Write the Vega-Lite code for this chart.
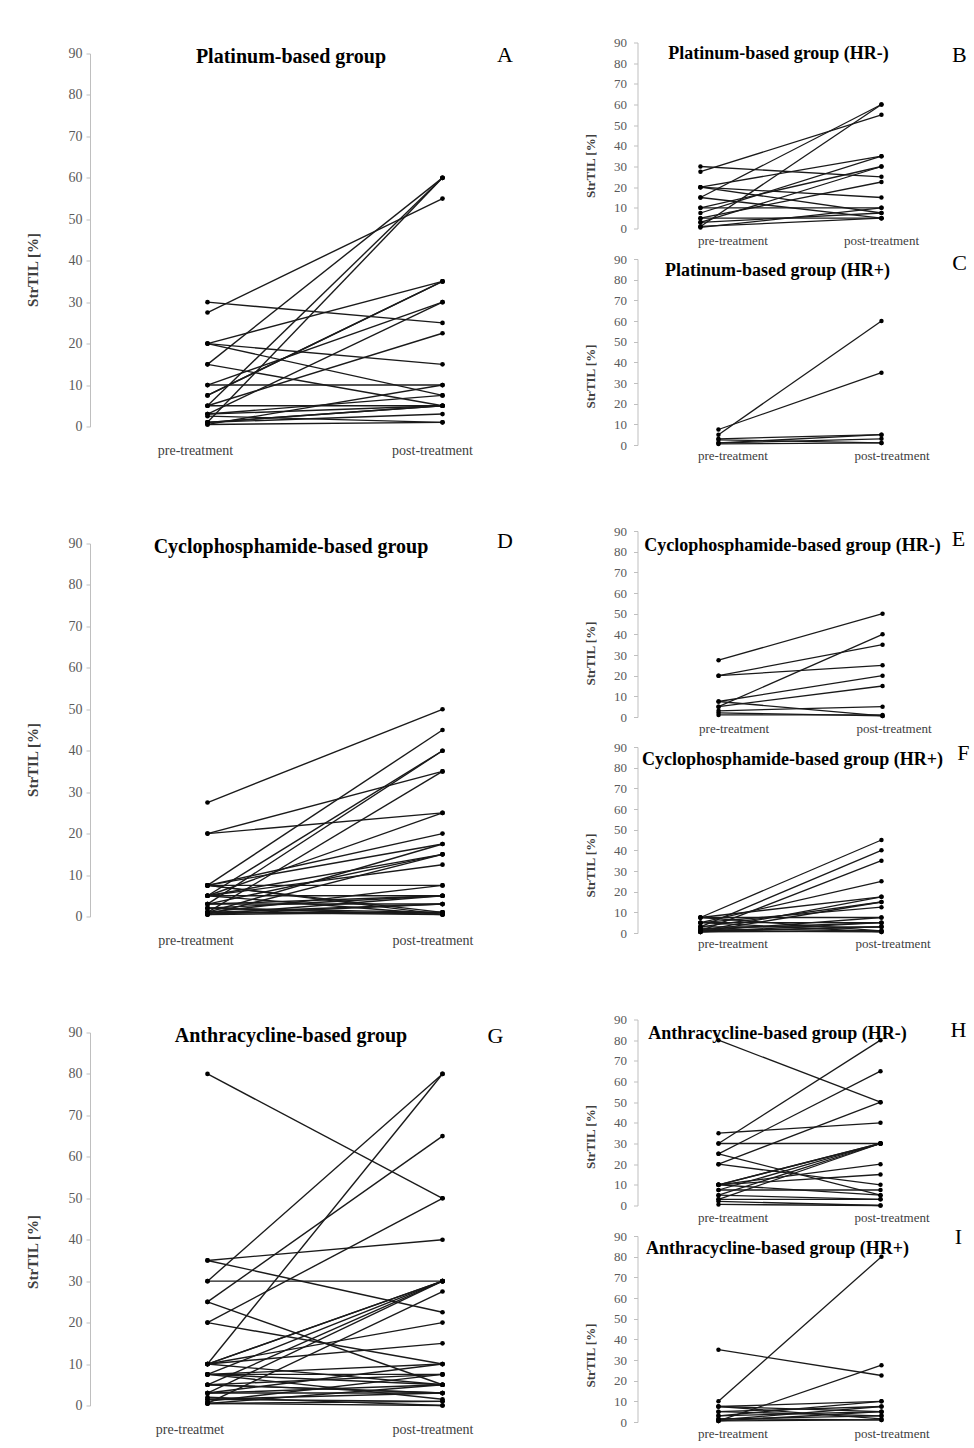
{
  "$schema": "https://vega.github.io/schema/vega-lite/v6.json",
  "padding": {"left": 25, "top": 36.5, "right": 0, "bottom": 0},
  "background": "white",
  "config": {"view": {"stroke": null}, "font": "Liberation Serif", "axis": {"grid": false}, "axisY": {"tickCount": 10, "labelOverlap": false}},
  "data": {"values": [
    {"id":1,"g":"P","hr":"-","pre":30,"post":25},
    {"id":2,"g":"P","hr":"-","pre":27.5,"post":55},
    {"id":3,"g":"P","hr":"-","pre":20,"post":35},
    {"id":4,"g":"P","hr":"-","pre":20,"post":15},
    {"id":5,"g":"P","hr":"-","pre":20,"post":7.5},
    {"id":6,"g":"P","hr":"-","pre":15,"post":60},
    {"id":7,"g":"P","hr":"-","pre":15,"post":5},
    {"id":8,"g":"P","hr":"-","pre":10,"post":30},
    {"id":9,"g":"P","hr":"-","pre":10,"post":10},
    {"id":10,"g":"P","hr":"-","pre":7.5,"post":35},
    {"id":11,"g":"P","hr":"-","pre":5,"post":22.5},
    {"id":12,"g":"P","hr":"-","pre":5,"post":5},
    {"id":13,"g":"P","hr":"-","pre":3,"post":30},
    {"id":14,"g":"P","hr":"-","pre":1,"post":60},
    {"id":15,"g":"P","hr":"-","pre":0.5,"post":10},
    {"id":16,"g":"P","hr":"-","pre":3,"post":7.5},
    {"id":17,"g":"P","hr":"-","pre":1,"post":5},
    {"id":18,"g":"P","hr":"+","pre":5,"post":60},
    {"id":19,"g":"P","hr":"+","pre":7.5,"post":35},
    {"id":20,"g":"P","hr":"+","pre":3,"post":5},
    {"id":21,"g":"P","hr":"+","pre":1,"post":3},
    {"id":22,"g":"P","hr":"+","pre":0.5,"post":1},
    {"id":23,"g":"P","hr":"+","pre":2.5,"post":1},
    {"id":24,"g":"P","hr":"+","pre":1,"post":5},
    {"id":25,"g":"C","hr":"-","pre":27.5,"post":50},
    {"id":26,"g":"C","hr":"-","pre":20,"post":35},
    {"id":27,"g":"C","hr":"-","pre":20,"post":25},
    {"id":28,"g":"C","hr":"-","pre":5,"post":40},
    {"id":29,"g":"C","hr":"-","pre":7.5,"post":20},
    {"id":30,"g":"C","hr":"-","pre":5,"post":15},
    {"id":31,"g":"C","hr":"-","pre":7.5,"post":0.5},
    {"id":32,"g":"C","hr":"-","pre":3,"post":5},
    {"id":33,"g":"C","hr":"-","pre":1,"post":1},
    {"id":34,"g":"C","hr":"-","pre":2,"post":0.5},
    {"id":35,"g":"C","hr":"+","pre":7.5,"post":45},
    {"id":36,"g":"C","hr":"+","pre":3,"post":40},
    {"id":37,"g":"C","hr":"+","pre":1,"post":35},
    {"id":38,"g":"C","hr":"+","pre":5,"post":25},
    {"id":39,"g":"C","hr":"+","pre":7.5,"post":17.5},
    {"id":40,"g":"C","hr":"+","pre":1,"post":17.5},
    {"id":41,"g":"C","hr":"+","pre":3,"post":15},
    {"id":42,"g":"C","hr":"+","pre":0.5,"post":15},
    {"id":43,"g":"C","hr":"+","pre":5,"post":12.5},
    {"id":44,"g":"C","hr":"+","pre":7.5,"post":7.5},
    {"id":45,"g":"C","hr":"+","pre":1,"post":7.5},
    {"id":46,"g":"C","hr":"+","pre":5,"post":5},
    {"id":47,"g":"C","hr":"+","pre":2,"post":5},
    {"id":48,"g":"C","hr":"+","pre":0.5,"post":5},
    {"id":49,"g":"C","hr":"+","pre":3,"post":3},
    {"id":50,"g":"C","hr":"+","pre":1,"post":3},
    {"id":51,"g":"C","hr":"+","pre":7.5,"post":1},
    {"id":52,"g":"C","hr":"+","pre":0.5,"post":1},
    {"id":53,"g":"C","hr":"+","pre":1,"post":0.5},
    {"id":54,"g":"C","hr":"+","pre":5,"post":0.5},
    {"id":55,"g":"C","hr":"+","pre":2,"post":1},
    {"id":56,"g":"C","hr":"+","pre":0.5,"post":3},
    {"id":57,"g":"A","hr":"-","pre":80,"post":50},
    {"id":58,"g":"A","hr":"-","pre":30,"post":80},
    {"id":59,"g":"A","hr":"-","pre":25,"post":65},
    {"id":60,"g":"A","hr":"-","pre":20,"post":50},
    {"id":61,"g":"A","hr":"-","pre":35,"post":40},
    {"id":62,"g":"A","hr":"-","pre":30,"post":30},
    {"id":63,"g":"A","hr":"-","pre":25,"post":5},
    {"id":64,"g":"A","hr":"-","pre":20,"post":10},
    {"id":65,"g":"A","hr":"-","pre":10,"post":30},
    {"id":66,"g":"A","hr":"-","pre":10,"post":30},
    {"id":67,"g":"A","hr":"-","pre":7.5,"post":30},
    {"id":68,"g":"A","hr":"-","pre":5,"post":30},
    {"id":69,"g":"A","hr":"-","pre":3,"post":30},
    {"id":70,"g":"A","hr":"-","pre":10,"post":15},
    {"id":71,"g":"A","hr":"-","pre":10,"post":20},
    {"id":72,"g":"A","hr":"-","pre":7.5,"post":7.5},
    {"id":73,"g":"A","hr":"-","pre":5,"post":3},
    {"id":74,"g":"A","hr":"-","pre":3,"post":3},
    {"id":75,"g":"A","hr":"-","pre":0.5,"post":0},
    {"id":76,"g":"A","hr":"-","pre":2,"post":0},
    {"id":77,"g":"A","hr":"-","pre":10,"post":5},
    {"id":78,"g":"A","hr":"+","pre":35,"post":22.5},
    {"id":79,"g":"A","hr":"+","pre":10,"post":80},
    {"id":80,"g":"A","hr":"+","pre":0.5,"post":27.5},
    {"id":81,"g":"A","hr":"+","pre":7.5,"post":10},
    {"id":82,"g":"A","hr":"+","pre":7.5,"post":5},
    {"id":83,"g":"A","hr":"+","pre":5,"post":7.5},
    {"id":84,"g":"A","hr":"+","pre":5,"post":3},
    {"id":85,"g":"A","hr":"+","pre":3,"post":5},
    {"id":86,"g":"A","hr":"+","pre":3,"post":10},
    {"id":87,"g":"A","hr":"+","pre":1.5,"post":3},
    {"id":88,"g":"A","hr":"+","pre":1.5,"post":1},
    {"id":89,"g":"A","hr":"+","pre":0.5,"post":1},
    {"id":90,"g":"A","hr":"+","pre":7.5,"post":1.5},
    {"id":91,"g":"A","hr":"+","pre":1,"post":7.5},
    {"id":92,"g":"A","hr":"+","pre":0.5,"post":5}
  ]},
  "spacing": 23.5,
  "center": true,
  "hconcat": [
    {
      "spacing": 72,
      "vconcat": [
        {
          "width": 470, "height": 373,
          "title": {"text": "Platinum-based group", "font": "Liberation Serif", "fontSize": 20, "fontWeight": "bold", "color": "black", "frame": "group", "anchor": "middle", "offset": -23, "dx": -34},
          "layer": [
            {"transform": [{"filter": "datum.g === 'P'"}, {"fold": ["pre", "post"], "as": ["phase", "v"]}],
             "mark": {"type": "line", "color": "#1a1a1a", "strokeWidth": 1.4},
             "encoding": {
               "x": {"field": "phase", "type": "ordinal", "scale": {"type": "point", "domain": ["pre", "post"], "padding": 0.5, "align": 0.5},
                 "axis": {"title": null, "domain": false, "ticks": false, "tickSize": 0, "labelAngle": 0, "labelFont": "Liberation Serif", "labelFontSize": 14, "labelColor": "#404040", "labelPadding": 17, "labelExpr": "datum.value === 'pre' ? 'pre-treatment' : 'post-treatment'", "labelOffset": {"condition": {"test": "datum.value === 'pre'", "value": -12.5}, "value": -10.5}}},
               "y": {"field": "v", "type": "quantitative", "scale": {"domain": [0, 90], "nice": false},
                 "axis": {"values": [0,10,20,30,40,50,60,70,80,90], "labelOverlap": false, "title": "StrTIL [%]", "labelFont": "Liberation Serif", "labelFontSize": 14, "labelColor": "#595959", "labelPadding": 4, "tickSize": 4, "tickColor": "#bfbfbf", "domainColor": "#bfbfbf", "titleFont": "Liberation Serif", "titleFontSize": 15, "titleFontWeight": "bold", "titleColor": "#404040", "titlePadding": 27.5, "titleY": 216}},
               "detail": {"field": "id", "type": "nominal"}}},
            {"transform": [{"filter": "datum.g === 'P'"}, {"fold": ["pre", "post"], "as": ["phase", "v"]}],
             "mark": {"type": "circle", "color": "black", "size": 22, "opacity": 1},
             "encoding": {"x": {"field": "phase", "type": "ordinal"},
               "y": {"field": "v", "type": "quantitative", "axis": {"values": [0,10,20,30,40,50,60,70,80,90], "labelOverlap": false, "title": "StrTIL [%]", "labelFont": "Liberation Serif", "labelFontSize": 14, "labelColor": "#595959", "labelPadding": 4, "tickSize": 4, "tickColor": "#bfbfbf", "domainColor": "#bfbfbf", "titleFont": "Liberation Serif", "titleFontSize": 15, "titleFontWeight": "bold", "titleColor": "#404040", "titlePadding": 27.5, "titleY": 216}}}},
            {"transform": [{"filter": "datum.id === 1"}],
             "mark": {"type": "text", "text": "A", "font": "Liberation Serif", "fontSize": 22, "color": "black", "dx": 62.5, "dy": 1, "baseline": "middle"},
             "encoding": {"x": {"datum": "post", "type": "ordinal"},
               "y": {"datum": 90, "type": "quantitative", "axis": {"values": [0,10,20,30,40,50,60,70,80,90], "labelOverlap": false, "title": "StrTIL [%]", "labelFont": "Liberation Serif", "labelFontSize": 14, "labelColor": "#595959", "labelPadding": 4, "tickSize": 4, "tickColor": "#bfbfbf", "domainColor": "#bfbfbf", "titleFont": "Liberation Serif", "titleFontSize": 15, "titleFontWeight": "bold", "titleColor": "#404040", "titlePadding": 27.5, "titleY": 216}}}}
          ]
        },
        {
          "spacing": 77,
          "vconcat": [
            {
              "width": 470, "height": 373,
              "title": {"text": "Cyclophosphamide-based group", "font": "Liberation Serif", "fontSize": 20, "fontWeight": "bold", "color": "black", "frame": "group", "anchor": "middle", "offset": -27, "dx": -34},
              "layer": [
                {"transform": [{"filter": "datum.g === 'C'"}, {"fold": ["pre", "post"], "as": ["phase", "v"]}],
                 "mark": {"type": "line", "color": "#1a1a1a", "strokeWidth": 1.4},
                 "encoding": {
                   "x": {"field": "phase", "type": "ordinal", "scale": {"type": "point", "domain": ["pre", "post"], "padding": 0.5, "align": 0.5},
                     "axis": {"title": null, "domain": false, "ticks": false, "tickSize": 0, "labelAngle": 0, "labelFont": "Liberation Serif", "labelFontSize": 14, "labelColor": "#404040", "labelPadding": 17, "labelExpr": "datum.value === 'pre' ? 'pre-treatment' : 'post-treatment'", "labelOffset": {"condition": {"test": "datum.value === 'pre'", "value": -12}, "value": -10}}},
                   "y": {"field": "v", "type": "quantitative", "scale": {"domain": [0, 90], "nice": false},
                     "axis": {"values": [0,10,20,30,40,50,60,70,80,90], "labelOverlap": false, "title": "StrTIL [%]", "labelFont": "Liberation Serif", "labelFontSize": 14, "labelColor": "#595959", "labelPadding": 4, "tickSize": 4, "tickColor": "#bfbfbf", "domainColor": "#bfbfbf", "titleFont": "Liberation Serif", "titleFontSize": 15, "titleFontWeight": "bold", "titleColor": "#404040", "titlePadding": 27.5, "titleY": 216}},
                   "detail": {"field": "id", "type": "nominal"}}},
                {"transform": [{"filter": "datum.g === 'C'"}, {"fold": ["pre", "post"], "as": ["phase", "v"]}],
                 "mark": {"type": "circle", "color": "black", "size": 22, "opacity": 1},
                 "encoding": {"x": {"field": "phase", "type": "ordinal"},
                   "y": {"field": "v", "type": "quantitative", "axis": {"values": [0,10,20,30,40,50,60,70,80,90], "labelOverlap": false, "title": "StrTIL [%]", "labelFont": "Liberation Serif", "labelFontSize": 14, "labelColor": "#595959", "labelPadding": 4, "tickSize": 4, "tickColor": "#bfbfbf", "domainColor": "#bfbfbf", "titleFont": "Liberation Serif", "titleFontSize": 15, "titleFontWeight": "bold", "titleColor": "#404040", "titlePadding": 27.5, "titleY": 216}}}},
                {"transform": [{"filter": "datum.id === 1"}],
                 "mark": {"type": "text", "text": "D", "font": "Liberation Serif", "fontSize": 22, "color": "black", "dx": 62.5, "dy": -3, "baseline": "middle"},
                 "encoding": {"x": {"datum": "post", "type": "ordinal"},
                   "y": {"datum": 90, "type": "quantitative", "axis": {"values": [0,10,20,30,40,50,60,70,80,90], "labelOverlap": false, "title": "StrTIL [%]", "labelFont": "Liberation Serif", "labelFontSize": 14, "labelColor": "#595959", "labelPadding": 4, "tickSize": 4, "tickColor": "#bfbfbf", "domainColor": "#bfbfbf", "titleFont": "Liberation Serif", "titleFontSize": 15, "titleFontWeight": "bold", "titleColor": "#404040", "titlePadding": 27.5, "titleY": 216}}}}
              ]
            },
            {
              "width": 470, "height": 373,
              "title": {"text": "Anthracycline-based group", "font": "Liberation Serif", "fontSize": 20, "fontWeight": "bold", "color": "black", "frame": "group", "anchor": "middle", "offset": -21, "dx": -34},
              "layer": [
                {"transform": [{"filter": "datum.g === 'A'"}, {"fold": ["pre", "post"], "as": ["phase", "v"]}],
                 "mark": {"type": "line", "color": "#1a1a1a", "strokeWidth": 1.4},
                 "encoding": {
                   "x": {"field": "phase", "type": "ordinal", "scale": {"type": "point", "domain": ["pre", "post"], "padding": 0.5, "align": 0.5},
                     "axis": {"title": null, "domain": false, "ticks": false, "tickSize": 0, "labelAngle": 0, "labelFont": "Liberation Serif", "labelFontSize": 14, "labelColor": "#404040", "labelPadding": 17, "labelExpr": "datum.value === 'pre' ? 'pre-treatmet' : 'post-treatment'", "labelOffset": {"condition": {"test": "datum.value === 'pre'", "value": -18}, "value": -10}}},
                   "y": {"field": "v", "type": "quantitative", "scale": {"domain": [0, 90], "nice": false},
                     "axis": {"values": [0,10,20,30,40,50,60,70,80,90], "labelOverlap": false, "title": "StrTIL [%]", "labelFont": "Liberation Serif", "labelFontSize": 14, "labelColor": "#595959", "labelPadding": 4, "tickSize": 4, "tickColor": "#bfbfbf", "domainColor": "#bfbfbf", "titleFont": "Liberation Serif", "titleFontSize": 15, "titleFontWeight": "bold", "titleColor": "#404040", "titlePadding": 27.5, "titleY": 219}},
                   "detail": {"field": "id", "type": "nominal"}}},
                {"transform": [{"filter": "datum.g === 'A'"}, {"fold": ["pre", "post"], "as": ["phase", "v"]}],
                 "mark": {"type": "circle", "color": "black", "size": 22, "opacity": 1},
                 "encoding": {"x": {"field": "phase", "type": "ordinal"},
                   "y": {"field": "v", "type": "quantitative", "axis": {"values": [0,10,20,30,40,50,60,70,80,90], "labelOverlap": false, "title": "StrTIL [%]", "labelFont": "Liberation Serif", "labelFontSize": 14, "labelColor": "#595959", "labelPadding": 4, "tickSize": 4, "tickColor": "#bfbfbf", "domainColor": "#bfbfbf", "titleFont": "Liberation Serif", "titleFontSize": 15, "titleFontWeight": "bold", "titleColor": "#404040", "titlePadding": 27.5, "titleY": 219}}}},
                {"transform": [{"filter": "datum.id === 1"}],
                 "mark": {"type": "text", "text": "G", "font": "Liberation Serif", "fontSize": 22, "color": "black", "dx": 53, "dy": 3, "baseline": "middle"},
                 "encoding": {"x": {"datum": "post", "type": "ordinal"},
                   "y": {"datum": 90, "type": "quantitative", "axis": {"values": [0,10,20,30,40,50,60,70,80,90], "labelOverlap": false, "title": "StrTIL [%]", "labelFont": "Liberation Serif", "labelFontSize": 14, "labelColor": "#595959", "labelPadding": 4, "tickSize": 4, "tickColor": "#bfbfbf", "domainColor": "#bfbfbf", "titleFont": "Liberation Serif", "titleFontSize": 15, "titleFontWeight": "bold", "titleColor": "#404040", "titlePadding": 27.5, "titleY": 219}}}}
              ]
            }
          ]
        }
      ]
    },
    {
      "spacing": 62.5,
      "vconcat": [
        {"spacing": 4.5, "vconcat": [
          {
            "width": 300, "height": 186,
            "title": {"text": "Platinum-based group (HR-)", "font": "Liberation Serif", "fontSize": 18, "fontWeight": "bold", "color": "black", "frame": "group", "anchor": "middle", "offset": -26, "dx": -9},
            "layer": [
              {"transform": [{"filter": "datum.g === 'P' && datum.hr === '-'"}, {"fold": ["pre", "post"], "as": ["phase", "v"]}],
               "mark": {"type": "line", "color": "#1a1a1a", "strokeWidth": 1.3},
               "encoding": {
                 "x": {"field": "phase", "type": "ordinal", "scale": {"type": "point", "domain": ["pre", "post"], "padding": 0.3287, "align": 0.529},
                   "axis": {"title": null, "domain": false, "ticks": false, "tickSize": 0, "labelAngle": 0, "labelFont": "Liberation Serif", "labelFontSize": 13, "labelColor": "#404040", "labelPadding": 5.5, "labelExpr": "datum.value === 'pre' ? 'pre-treatment' : 'post-treatment'", "labelOffset": {"condition": {"test": "datum.value === 'pre'", "value": 32}, "value": -0.5}}},
                 "y": {"field": "v", "type": "quantitative", "scale": {"domain": [0, 90], "nice": false},
                   "axis": {"values": [0,10,20,30,40,50,60,70,80,90], "labelOverlap": false, "title": "StrTIL [%]", "labelFont": "Liberation Serif", "labelFontSize": 13, "labelColor": "#595959", "labelPadding": 7, "tickSize": 4, "tickColor": "#bfbfbf", "domainColor": "#bfbfbf", "titleFont": "Liberation Serif", "titleFontSize": 13, "titleFontWeight": "bold", "titleColor": "#404040", "titlePadding": 16.5, "titleY": 123}},
                 "detail": {"field": "id", "type": "nominal"}}},
              {"transform": [{"filter": "datum.g === 'P' && datum.hr === '-'"}, {"fold": ["pre", "post"], "as": ["phase", "v"]}],
               "mark": {"type": "circle", "color": "black", "size": 20, "opacity": 1},
               "encoding": {"x": {"field": "phase", "type": "ordinal"},
                 "y": {"field": "v", "type": "quantitative", "axis": {"values": [0,10,20,30,40,50,60,70,80,90], "labelOverlap": false, "title": "StrTIL [%]", "labelFont": "Liberation Serif", "labelFontSize": 13, "labelColor": "#595959", "labelPadding": 7, "tickSize": 4, "tickColor": "#bfbfbf", "domainColor": "#bfbfbf", "titleFont": "Liberation Serif", "titleFontSize": 13, "titleFontWeight": "bold", "titleColor": "#404040", "titlePadding": 16.5, "titleY": 123}}}},
              {"transform": [{"filter": "datum.id === 1"}],
               "mark": {"type": "text", "text": "B", "font": "Liberation Serif", "fontSize": 22, "color": "black", "dx": 78, "dy": 12, "baseline": "middle"},
               "encoding": {"x": {"datum": "post", "type": "ordinal"},
                 "y": {"datum": 90, "type": "quantitative", "axis": {"values": [0,10,20,30,40,50,60,70,80,90], "labelOverlap": false, "title": "StrTIL [%]", "labelFont": "Liberation Serif", "labelFontSize": 13, "labelColor": "#595959", "labelPadding": 7, "tickSize": 4, "tickColor": "#bfbfbf", "domainColor": "#bfbfbf", "titleFont": "Liberation Serif", "titleFontSize": 13, "titleFontWeight": "bold", "titleColor": "#404040", "titlePadding": 16.5, "titleY": 123}}}}
            ]
          },
          {
            "width": 300, "height": 186,
            "title": {"text": "Platinum-based group (HR+)", "font": "Liberation Serif", "fontSize": 18, "fontWeight": "bold", "color": "black", "frame": "group", "anchor": "middle", "offset": -28, "dx": -10},
            "layer": [
              {"transform": [{"filter": "datum.g === 'P' && datum.hr === '+'"}, {"fold": ["pre", "post"], "as": ["phase", "v"]}],
               "mark": {"type": "line", "color": "#1a1a1a", "strokeWidth": 1.3},
               "encoding": {
                 "x": {"field": "phase", "type": "ordinal", "scale": {"type": "point", "domain": ["pre", "post"], "padding": 0.4202, "align": 0.591},
                   "axis": {"title": null, "domain": false, "ticks": false, "tickSize": 0, "labelAngle": 0, "labelFont": "Liberation Serif", "labelFontSize": 13, "labelColor": "#404040", "labelPadding": 4.5, "labelExpr": "datum.value === 'pre' ? 'pre-treatment' : 'post-treatment'", "labelOffset": {"condition": {"test": "datum.value === 'pre'", "value": 14}, "value": 10}}},
                 "y": {"field": "v", "type": "quantitative", "scale": {"domain": [0, 90], "nice": false},
                   "axis": {"values": [0,10,20,30,40,50,60,70,80,90], "labelOverlap": false, "title": "StrTIL [%]", "labelFont": "Liberation Serif", "labelFontSize": 13, "labelColor": "#595959", "labelPadding": 7, "tickSize": 4, "tickColor": "#bfbfbf", "domainColor": "#bfbfbf", "titleFont": "Liberation Serif", "titleFontSize": 13, "titleFontWeight": "bold", "titleColor": "#404040", "titlePadding": 16.5, "titleY": 117}},
                 "detail": {"field": "id", "type": "nominal"}}},
              {"transform": [{"filter": "datum.g === 'P' && datum.hr === '+'"}, {"fold": ["pre", "post"], "as": ["phase", "v"]}],
               "mark": {"type": "circle", "color": "black", "size": 20, "opacity": 1},
               "encoding": {"x": {"field": "phase", "type": "ordinal"},
                 "y": {"field": "v", "type": "quantitative", "axis": {"values": [0,10,20,30,40,50,60,70,80,90], "labelOverlap": false, "title": "StrTIL [%]", "labelFont": "Liberation Serif", "labelFontSize": 13, "labelColor": "#595959", "labelPadding": 7, "tickSize": 4, "tickColor": "#bfbfbf", "domainColor": "#bfbfbf", "titleFont": "Liberation Serif", "titleFontSize": 13, "titleFontWeight": "bold", "titleColor": "#404040", "titlePadding": 16.5, "titleY": 117}}}},
              {"transform": [{"filter": "datum.id === 1"}],
               "mark": {"type": "text", "text": "C", "font": "Liberation Serif", "fontSize": 22, "color": "black", "dx": 78, "dy": 4, "baseline": "middle"},
               "encoding": {"x": {"datum": "post", "type": "ordinal"},
                 "y": {"datum": 90, "type": "quantitative", "axis": {"values": [0,10,20,30,40,50,60,70,80,90], "labelOverlap": false, "title": "StrTIL [%]", "labelFont": "Liberation Serif", "labelFontSize": 13, "labelColor": "#595959", "labelPadding": 7, "tickSize": 4, "tickColor": "#bfbfbf", "domainColor": "#bfbfbf", "titleFont": "Liberation Serif", "titleFontSize": 13, "titleFontWeight": "bold", "titleColor": "#404040", "titlePadding": 16.5, "titleY": 117}}}}
            ]
          }
        ]},
        {"spacing": 5, "vconcat": [
          {
            "width": 300, "height": 186,
            "title": {"text": "Cyclophosphamide-based group (HR-)", "font": "Liberation Serif", "fontSize": 18, "fontWeight": "bold", "color": "black", "frame": "group", "anchor": "middle", "offset": -29.5, "dx": 5},
            "layer": [
              {"transform": [{"filter": "datum.g === 'C' && datum.hr === '-'"}, {"fold": ["pre", "post"], "as": ["phase", "v"]}],
               "mark": {"type": "line", "color": "#1a1a1a", "strokeWidth": 1.3},
               "encoding": {
                 "x": {"field": "phase", "type": "ordinal", "scale": {"type": "point", "domain": ["pre", "post"], "padding": 0.4146, "align": 0.596},
                   "axis": {"title": null, "domain": false, "ticks": false, "tickSize": 0, "labelAngle": 0, "labelFont": "Liberation Serif", "labelFontSize": 13, "labelColor": "#404040", "labelPadding": 5.5, "labelExpr": "datum.value === 'pre' ? 'pre-treatment' : 'post-treatment'", "labelOffset": {"condition": {"test": "datum.value === 'pre'", "value": 15}, "value": 11}}},
                 "y": {"field": "v", "type": "quantitative", "scale": {"domain": [0, 90], "nice": false},
                   "axis": {"values": [0,10,20,30,40,50,60,70,80,90], "labelOverlap": false, "title": "StrTIL [%]", "labelFont": "Liberation Serif", "labelFontSize": 13, "labelColor": "#595959", "labelPadding": 7, "tickSize": 4, "tickColor": "#bfbfbf", "domainColor": "#bfbfbf", "titleFont": "Liberation Serif", "titleFontSize": 13, "titleFontWeight": "bold", "titleColor": "#404040", "titlePadding": 16.5, "titleY": 122}},
                 "detail": {"field": "id", "type": "nominal"}}},
              {"transform": [{"filter": "datum.g === 'C' && datum.hr === '-'"}, {"fold": ["pre", "post"], "as": ["phase", "v"]}],
               "mark": {"type": "circle", "color": "black", "size": 20, "opacity": 1},
               "encoding": {"x": {"field": "phase", "type": "ordinal"},
                 "y": {"field": "v", "type": "quantitative", "axis": {"values": [0,10,20,30,40,50,60,70,80,90], "labelOverlap": false, "title": "StrTIL [%]", "labelFont": "Liberation Serif", "labelFontSize": 13, "labelColor": "#595959", "labelPadding": 7, "tickSize": 4, "tickColor": "#bfbfbf", "domainColor": "#bfbfbf", "titleFont": "Liberation Serif", "titleFontSize": 13, "titleFontWeight": "bold", "titleColor": "#404040", "titlePadding": 16.5, "titleY": 122}}}},
              {"transform": [{"filter": "datum.id === 1"}],
               "mark": {"type": "text", "text": "E", "font": "Liberation Serif", "fontSize": 22, "color": "black", "dx": 76, "dy": 8, "baseline": "middle"},
               "encoding": {"x": {"datum": "post", "type": "ordinal"},
                 "y": {"datum": 90, "type": "quantitative", "axis": {"values": [0,10,20,30,40,50,60,70,80,90], "labelOverlap": false, "title": "StrTIL [%]", "labelFont": "Liberation Serif", "labelFontSize": 13, "labelColor": "#595959", "labelPadding": 7, "tickSize": 4, "tickColor": "#bfbfbf", "domainColor": "#bfbfbf", "titleFont": "Liberation Serif", "titleFontSize": 13, "titleFontWeight": "bold", "titleColor": "#404040", "titlePadding": 16.5, "titleY": 122}}}}
            ]
          },
          {
            "width": 300, "height": 186,
            "title": {"text": "Cyclophosphamide-based group (HR+)", "font": "Liberation Serif", "fontSize": 18, "fontWeight": "bold", "color": "black", "frame": "group", "anchor": "middle", "offset": -28, "dx": 5},
            "layer": [
              {"transform": [{"filter": "datum.g === 'C' && datum.hr === '+'"}, {"fold": ["pre", "post"], "as": ["phase", "v"]}],
               "mark": {"type": "line", "color": "#1a1a1a", "strokeWidth": 1.3},
               "encoding": {
                 "x": {"field": "phase", "type": "ordinal", "scale": {"type": "point", "domain": ["pre", "post"], "padding": 0.3287, "align": 0.529},
                   "axis": {"title": null, "domain": false, "ticks": false, "tickSize": 0, "labelAngle": 0, "labelFont": "Liberation Serif", "labelFontSize": 13, "labelColor": "#404040", "labelPadding": 4.5, "labelExpr": "datum.value === 'pre' ? 'pre-treatment' : 'post-treatment'", "labelOffset": {"condition": {"test": "datum.value === 'pre'", "value": 32}, "value": 11}}},
                 "y": {"field": "v", "type": "quantitative", "scale": {"domain": [0, 90], "nice": false},
                   "axis": {"values": [0,10,20,30,40,50,60,70,80,90], "labelOverlap": false, "title": "StrTIL [%]", "labelFont": "Liberation Serif", "labelFontSize": 13, "labelColor": "#595959", "labelPadding": 7, "tickSize": 4, "tickColor": "#bfbfbf", "domainColor": "#bfbfbf", "titleFont": "Liberation Serif", "titleFontSize": 13, "titleFontWeight": "bold", "titleColor": "#404040", "titlePadding": 16.5, "titleY": 118}},
                 "detail": {"field": "id", "type": "nominal"}}},
              {"transform": [{"filter": "datum.g === 'C' && datum.hr === '+'"}, {"fold": ["pre", "post"], "as": ["phase", "v"]}],
               "mark": {"type": "circle", "color": "black", "size": 20, "opacity": 1},
               "encoding": {"x": {"field": "phase", "type": "ordinal"},
                 "y": {"field": "v", "type": "quantitative", "axis": {"values": [0,10,20,30,40,50,60,70,80,90], "labelOverlap": false, "title": "StrTIL [%]", "labelFont": "Liberation Serif", "labelFontSize": 13, "labelColor": "#595959", "labelPadding": 7, "tickSize": 4, "tickColor": "#bfbfbf", "domainColor": "#bfbfbf", "titleFont": "Liberation Serif", "titleFontSize": 13, "titleFontWeight": "bold", "titleColor": "#404040", "titlePadding": 16.5, "titleY": 118}}}},
              {"transform": [{"filter": "datum.id === 1"}],
               "mark": {"type": "text", "text": "F", "font": "Liberation Serif", "fontSize": 22, "color": "black", "dx": 82, "dy": 6, "baseline": "middle"},
               "encoding": {"x": {"datum": "post", "type": "ordinal"},
                 "y": {"datum": 90, "type": "quantitative", "axis": {"values": [0,10,20,30,40,50,60,70,80,90], "labelOverlap": false, "title": "StrTIL [%]", "labelFont": "Liberation Serif", "labelFontSize": 13, "labelColor": "#595959", "labelPadding": 7, "tickSize": 4, "tickColor": "#bfbfbf", "domainColor": "#bfbfbf", "titleFont": "Liberation Serif", "titleFontSize": 13, "titleFontWeight": "bold", "titleColor": "#404040", "titlePadding": 16.5, "titleY": 118}}}}
            ]
          }
        ]},
        {"spacing": 1.5, "vconcat": [
          {
            "width": 300, "height": 186,
            "title": {"text": "Anthracycline-based group (HR-)", "font": "Liberation Serif", "fontSize": 18, "fontWeight": "bold", "color": "black", "frame": "group", "anchor": "middle", "offset": -29, "dx": -10},
            "layer": [
              {"transform": [{"filter": "datum.g === 'A' && datum.hr === '-'"}, {"fold": ["pre", "post"], "as": ["phase", "v"]}],
               "mark": {"type": "line", "color": "#1a1a1a", "strokeWidth": 1.3},
               "encoding": {
                 "x": {"field": "phase", "type": "ordinal", "scale": {"type": "point", "domain": ["pre", "post"], "padding": 0.426, "align": 0.587},
                   "axis": {"title": null, "domain": false, "ticks": false, "tickSize": 0, "labelAngle": 0, "labelFont": "Liberation Serif", "labelFontSize": 13, "labelColor": "#404040", "labelPadding": 5.5, "labelExpr": "datum.value === 'pre' ? 'pre-treatment' : 'post-treatment'", "labelOffset": {"condition": {"test": "datum.value === 'pre'", "value": 14}, "value": 11}}},
                 "y": {"field": "v", "type": "quantitative", "scale": {"domain": [0, 90], "nice": false},
                   "axis": {"values": [0,10,20,30,40,50,60,70,80,90], "labelOverlap": false, "title": "StrTIL [%]", "labelFont": "Liberation Serif", "labelFontSize": 13, "labelColor": "#595959", "labelPadding": 7, "tickSize": 4, "tickColor": "#bfbfbf", "domainColor": "#bfbfbf", "titleFont": "Liberation Serif", "titleFontSize": 13, "titleFontWeight": "bold", "titleColor": "#404040", "titlePadding": 16.5, "titleY": 117}},
                 "detail": {"field": "id", "type": "nominal"}}},
              {"transform": [{"filter": "datum.g === 'A' && datum.hr === '-'"}, {"fold": ["pre", "post"], "as": ["phase", "v"]}],
               "mark": {"type": "circle", "color": "black", "size": 20, "opacity": 1},
               "encoding": {"x": {"field": "phase", "type": "ordinal"},
                 "y": {"field": "v", "type": "quantitative", "axis": {"values": [0,10,20,30,40,50,60,70,80,90], "labelOverlap": false, "title": "StrTIL [%]", "labelFont": "Liberation Serif", "labelFontSize": 13, "labelColor": "#595959", "labelPadding": 7, "tickSize": 4, "tickColor": "#bfbfbf", "domainColor": "#bfbfbf", "titleFont": "Liberation Serif", "titleFontSize": 13, "titleFontWeight": "bold", "titleColor": "#404040", "titlePadding": 16.5, "titleY": 117}}}},
              {"transform": [{"filter": "datum.id === 1"}],
               "mark": {"type": "text", "text": "H", "font": "Liberation Serif", "fontSize": 22, "color": "black", "dx": 78, "dy": 10, "baseline": "middle"},
               "encoding": {"x": {"datum": "post", "type": "ordinal"},
                 "y": {"datum": 90, "type": "quantitative", "axis": {"values": [0,10,20,30,40,50,60,70,80,90], "labelOverlap": false, "title": "StrTIL [%]", "labelFont": "Liberation Serif", "labelFontSize": 13, "labelColor": "#595959", "labelPadding": 7, "tickSize": 4, "tickColor": "#bfbfbf", "domainColor": "#bfbfbf", "titleFont": "Liberation Serif", "titleFontSize": 13, "titleFontWeight": "bold", "titleColor": "#404040", "titlePadding": 16.5, "titleY": 117}}}}
            ]
          },
          {
            "width": 300, "height": 186,
            "title": {"text": "Anthracycline-based group (HR+)", "font": "Liberation Serif", "fontSize": 18, "fontWeight": "bold", "color": "black", "frame": "group", "anchor": "middle", "offset": -32, "dx": -10},
            "layer": [
              {"transform": [{"filter": "datum.g === 'A' && datum.hr === '+'"}, {"fold": ["pre", "post"], "as": ["phase", "v"]}],
               "mark": {"type": "line", "color": "#1a1a1a", "strokeWidth": 1.3},
               "encoding": {
                 "x": {"field": "phase", "type": "ordinal", "scale": {"type": "point", "domain": ["pre", "post"], "padding": 0.4202, "align": 0.591},
                   "axis": {"title": " ", "titleFontSize": 6, "titlePadding": 1, "domain": false, "ticks": false, "tickSize": 0, "labelAngle": 0, "labelFont": "Liberation Serif", "labelFontSize": 13, "labelColor": "#404040", "labelPadding": 5.5, "labelExpr": "datum.value === 'pre' ? 'pre-treatment' : 'post-treatment'", "labelOffset": {"condition": {"test": "datum.value === 'pre'", "value": 14}, "value": 10}}},
                 "y": {"field": "v", "type": "quantitative", "scale": {"domain": [0, 90], "nice": false},
                   "axis": {"values": [0,10,20,30,40,50,60,70,80,90], "labelOverlap": false, "title": "StrTIL [%]", "labelFont": "Liberation Serif", "labelFontSize": 13, "labelColor": "#595959", "labelPadding": 7, "tickSize": 4, "tickColor": "#bfbfbf", "domainColor": "#bfbfbf", "titleFont": "Liberation Serif", "titleFontSize": 13, "titleFontWeight": "bold", "titleColor": "#404040", "titlePadding": 16.5, "titleY": 119}},
                 "detail": {"field": "id", "type": "nominal"}}},
              {"transform": [{"filter": "datum.g === 'A' && datum.hr === '+'"}, {"fold": ["pre", "post"], "as": ["phase", "v"]}],
               "mark": {"type": "circle", "color": "black", "size": 20, "opacity": 1},
               "encoding": {"x": {"field": "phase", "type": "ordinal"},
                 "y": {"field": "v", "type": "quantitative", "axis": {"values": [0,10,20,30,40,50,60,70,80,90], "labelOverlap": false, "title": "StrTIL [%]", "labelFont": "Liberation Serif", "labelFontSize": 13, "labelColor": "#595959", "labelPadding": 7, "tickSize": 4, "tickColor": "#bfbfbf", "domainColor": "#bfbfbf", "titleFont": "Liberation Serif", "titleFontSize": 13, "titleFontWeight": "bold", "titleColor": "#404040", "titlePadding": 16.5, "titleY": 119}}}},
              {"transform": [{"filter": "datum.id === 1"}],
               "mark": {"type": "text", "text": "I", "font": "Liberation Serif", "fontSize": 22, "color": "black", "dx": 77, "dy": 1, "baseline": "middle"},
               "encoding": {"x": {"datum": "post", "type": "ordinal"},
                 "y": {"datum": 90, "type": "quantitative", "axis": {"values": [0,10,20,30,40,50,60,70,80,90], "labelOverlap": false, "title": "StrTIL [%]", "labelFont": "Liberation Serif", "labelFontSize": 13, "labelColor": "#595959", "labelPadding": 7, "tickSize": 4, "tickColor": "#bfbfbf", "domainColor": "#bfbfbf", "titleFont": "Liberation Serif", "titleFontSize": 13, "titleFontWeight": "bold", "titleColor": "#404040", "titlePadding": 16.5, "titleY": 119}}}}
            ]
          }
        ]}
      ]
    }
  ]
}
